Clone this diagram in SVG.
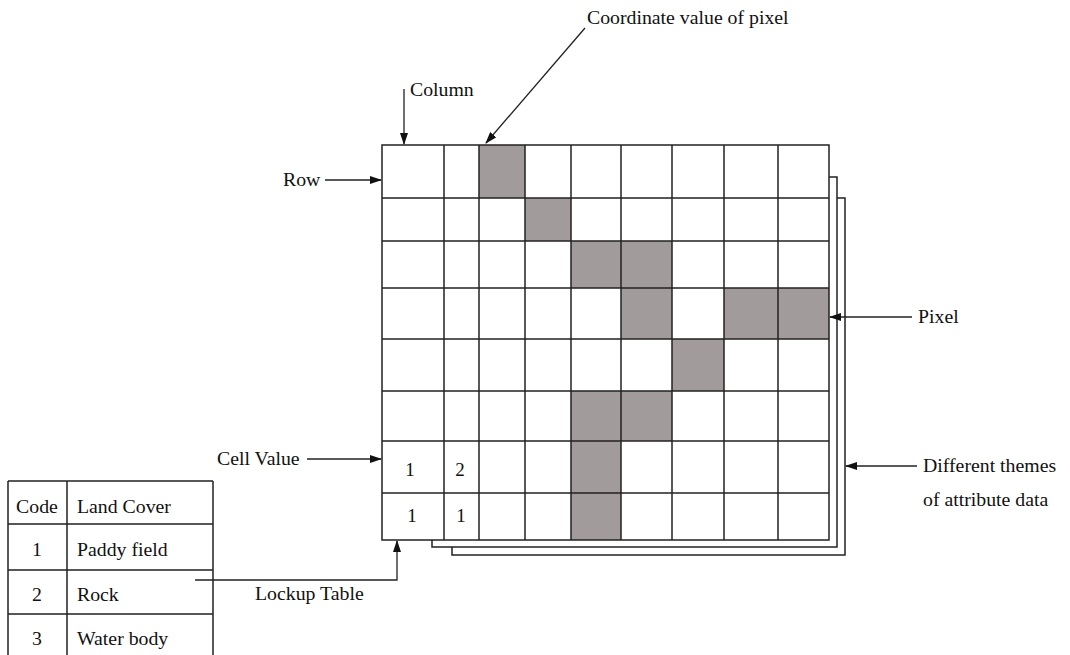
<svg xmlns="http://www.w3.org/2000/svg" width="1070" height="655" viewBox="0 0 1070 655">
<defs>
<marker id="ah" markerWidth="12" markerHeight="8" refX="11" refY="4" orient="auto" markerUnits="userSpaceOnUse">
<path d="M0,0 L12,4 L0,8 Z" fill="#111"/>
</marker>
<style>
text{font-family:"Liberation Serif","Times New Roman",serif;font-size:19.8px;fill:#111}
.g{fill:#a19c9b}
.ln{stroke:#222;stroke-width:1.5;fill:none}
.conn{stroke:#222;stroke-width:1.3;fill:none}
.num{font-size:19px;text-anchor:middle}
</style>
</defs>
<rect width="1070" height="655" fill="#fff"/>

<g id="sheets">
<polyline class="ln" points="829,177 837,177 837,547 432,547 432,540"/>
<polyline class="ln" points="837,198 845,198 845,555 452,555 452,547"/>
</g>

<g id="grid">
<rect x="382" y="145" width="447" height="395" fill="#fff"/>
<rect class="g" x="479" y="145" width="46" height="53"/>
<rect class="g" x="525" y="198" width="46" height="43"/>
<rect class="g" x="571" y="241" width="50" height="47"/>
<rect class="g" x="621" y="241" width="51" height="47"/>
<rect class="g" x="621" y="288" width="51" height="51"/>
<rect class="g" x="724" y="288" width="54" height="51"/>
<rect class="g" x="778" y="288" width="51" height="51"/>
<rect class="g" x="672" y="339" width="52" height="52"/>
<rect class="g" x="571" y="391" width="50" height="50"/>
<rect class="g" x="621" y="391" width="51" height="50"/>
<rect class="g" x="571" y="441" width="50" height="52"/>
<rect class="g" x="571" y="493" width="50" height="47"/>
<path class="ln" d="M444,145V540M479,145V540M525,145V540M571,145V540M621,145V540M672,145V540M724,145V540M778,145V540M382,198H829M382,241H829M382,288H829M382,339H829M382,391H829M382,441H829M382,493H829"/>
<rect class="ln" x="382" y="145" width="447" height="395"/>
<text class="num" x="410" y="476">1</text>
<text class="num" x="460" y="476">2</text>
<text class="num" x="412" y="522">1</text>
<text class="num" x="461" y="522">1</text>
</g>

<g id="table">
<path class="ln" d="M8,481H213M8,524H213M8,570H213M8,614H213M8,481V660M67,481V660M213,481V660"/>
<text x="37" y="513" text-anchor="middle">Code</text>
<text x="77" y="513">Land Cover</text>
<text x="37" y="556" text-anchor="middle">1</text>
<text x="77" y="556">Paddy field</text>
<text x="37" y="601" text-anchor="middle">2</text>
<text x="77" y="601">Rock</text>
<text x="37" y="645" text-anchor="middle">3</text>
<text x="77" y="645">Water body</text>
</g>

<g id="labels">
<text x="587" y="24">Coordinate value of pixel</text>
<text x="410" y="96">Column</text>
<text x="283" y="186">Row</text>
<text x="918" y="323">Pixel</text>
<text x="217" y="465">Cell Value</text>
<text x="923" y="472">Different themes</text>
<text x="923" y="506">of attribute data</text>
<text x="255" y="600">Lockup Table</text>
</g>

<g id="connectors">
<line class="conn" x1="585" y1="28" x2="486" y2="143" marker-end="url(#ah)"/>
<line class="conn" x1="404" y1="89" x2="404" y2="144" marker-end="url(#ah)"/>
<line class="conn" x1="325" y1="180" x2="381" y2="180" marker-end="url(#ah)"/>
<line class="conn" x1="912" y1="317" x2="830" y2="317" marker-end="url(#ah)"/>
<line class="conn" x1="307" y1="459" x2="381" y2="459" marker-end="url(#ah)"/>
<line class="conn" x1="917" y1="466" x2="846" y2="466" marker-end="url(#ah)"/>
<polyline class="conn" points="195,580 397,580 397,541" marker-end="url(#ah)"/>
</g>
</svg>
